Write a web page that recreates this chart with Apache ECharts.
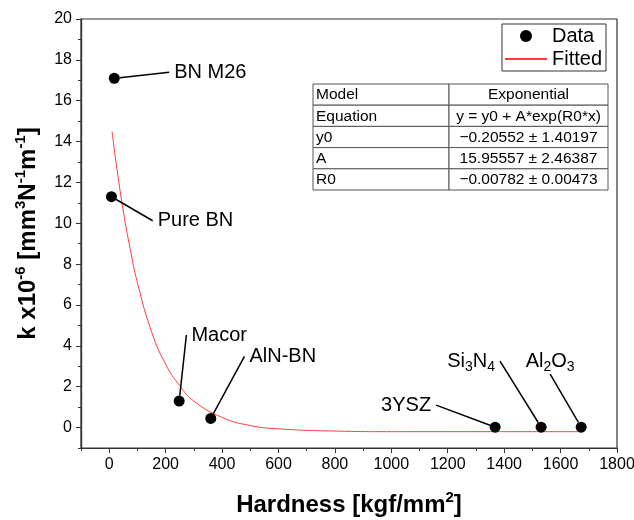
<!DOCTYPE html>
<html>
<head>
<meta charset="utf-8">
<script src="https://cdn.jsdelivr.net/npm/echarts@6/dist/echarts.min.js"></script>
<style>
  html, body { margin: 0; padding: 0; background: #fff; }
  #chart { width: 634px; height: 520px; }
</style>
</head>
<body>
<div id="chart"></div>
<script>
// measured samples (hardness in kgf/mm2, wear rate k in 1e-6 mm3/Nm)
const materials = ['BN M26', 'Pure BN', 'Macor', 'AlN-BN', '3YSZ', 'Si{sub|3}N{sub|4}', 'Al{sub|2}O{sub|3}'];
const hardness = [18, 8, 248, 360, 1368, 1531, 1673];
const wearRate = [17.1, 11.3, 1.3, 0.45, 0.02, 0.02, 0.02];

// fitted exponential curve
const fitHardness = [10, 25, 50, 75, 100, 150, 200, 250, 300, 400, 500, 600, 800, 1000, 1300, 1673];
const fitRate = [14.5, 12.9, 10.6, 8.7, 7.1, 4.7, 3.1, 2.05, 1.3, 0.5, 0.1, -0.06, -0.17, -0.2, -0.2, -0.2];

// tick values
const xMajor = [0, 200, 400, 600, 800, 1000, 1200, 1400, 1600, 1800];
const xMinor = [-100, 100, 300, 500, 700, 900, 1100, 1300, 1500, 1700];
const yMajor = [0, 2, 4, 6, 8, 10, 12, 14, 16, 18, 20];
const yMinor = [-1, 1, 3, 5, 7, 9, 11, 13, 15, 17, 19];

// fit summary table
const tableRows = [
    ['Model', 'Exponential'],
    ['Equation', 'y = y0 + A*exp(R0*x)'],
    ['y0', '\u22120.20552 \u00b1 1.40197'],
    ['A', '15.95557 \u00b1 2.46387'],
    ['R0', '\u22120.00782 \u00b1 0.00473']
];

// where each annotation sits relative to its point (px)
const labelShift = [[96, -6], [84, 24], [40, -66], [72, -62], [-89, -22], [-70, -66], [-31, -66]];

const FONT = '"Liberation Sans", Arial, sans-serif';
const INK = '#000';

const chart = echarts.init(document.getElementById('chart'));

const tableGraphic = (function () {
    const left = 313, top = 84, width = 295, rowH = 21.2, split = 136;
    const children = [];
    tableRows.forEach(function (row, i) {
        const y = top + i * rowH;
        children.push({
            type: 'rect',
            shape: { x: left, y: y, width: split, height: rowH },
            style: { fill: '#fff', stroke: '#555', lineWidth: 1 }
        });
        children.push({
            type: 'rect',
            shape: { x: left + split, y: y, width: width - split, height: rowH },
            style: { fill: '#fff', stroke: '#555', lineWidth: 1 }
        });
        children.push({
            type: 'text',
            style: { x: left + 3, y: y + rowH / 2 + 0.5, text: row[0], font: '15.5px ' + FONT, fill: INK, verticalAlign: 'middle' }
        });
        children.push({
            type: 'text',
            style: { x: left + split + (width - split) / 2, y: y + rowH / 2 + 0.5, text: row[1], font: '15.5px ' + FONT, fill: INK, align: 'center', verticalAlign: 'middle' }
        });
    });
    return { type: 'group', children: children };
})();

const axisCommon = {
    type: 'value',
    axisLine: { show: true, onZero: false, lineStyle: { color: '#333', width: 1.2 } },
    splitLine: { show: false }
};

const titleStyle = {
    fontSize: 24, fontWeight: 'bold', color: INK, fontFamily: FONT, lineHeight: 30,
    rich: { sup: { fontSize: 15, lineHeight: 15, fontWeight: 'bold', verticalAlign: 'top', color: INK, fontFamily: FONT } }
};

const option = {
    animation: false,
    textStyle: { fontFamily: FONT },
    grid: {
        left: 81, right: 17, top: 19, bottom: 72,
        outerBoundsMode: 'none', containLabel: false,
        show: true, borderColor: '#333', borderWidth: 1.2
    },
    legend: {
        orient: 'vertical',
        right: 28,
        top: 24,
        data: [
            { name: 'Data' },
            { name: 'Fitted', itemStyle: { opacity: 0 } }
        ],
        borderColor: '#333',
        borderWidth: 1,
        padding: [2, 4, 2, 2],
        itemWidth: 42,
        itemHeight: 12,
        itemGap: 3,
        textStyle: { fontSize: 20, color: INK, fontFamily: FONT }
    },
    xAxis: [
        Object.assign({}, axisCommon, {
            min: -100, max: 1800,
            position: 'bottom',
            name: 'Hardness [kgf/mm{sup|2}]',
            nameLocation: 'middle',
            nameGap: 42,
            nameTextStyle: titleStyle,
            axisTick: { show: true, length: 5, customValues: xMajor, lineStyle: { color: '#333' } },
            axisLabel: {
                customValues: xMajor, margin: 9, fontSize: 16, color: INK, fontFamily: FONT,
                formatter: function (v) { return String(v); }
            }
        }),
        Object.assign({}, axisCommon, {
            min: -100, max: 1800,
            position: 'bottom',
            axisTick: { show: true, length: 3, customValues: xMinor, lineStyle: { color: '#333' } },
            axisLabel: { show: false }
        })
    ],
    yAxis: [
        Object.assign({}, axisCommon, {
            min: -1, max: 20,
            position: 'left',
            name: 'k x10{sup|-6} [mm{sup|3}N{sup|-1}m{sup|-1}]',
            nameLocation: 'middle',
            nameGap: 28,
            nameTextStyle: titleStyle,
            axisTick: { show: true, length: 5, customValues: yMajor, lineStyle: { color: '#333' } },
            axisLabel: { customValues: yMajor, margin: 9, fontSize: 16, color: INK, fontFamily: FONT }
        }),
        Object.assign({}, axisCommon, {
            min: -1, max: 20,
            position: 'left',
            axisTick: { show: true, length: 3, customValues: yMinor, lineStyle: { color: '#333' } },
            axisLabel: { show: false }
        })
    ],
    series: [
        {
            name: 'Fitted',
            type: 'line',
            smooth: true,
            symbol: 'none',
            lineStyle: { color: '#ff3b3b', width: 1 },
            itemStyle: { color: '#ff3b3b' },
            data: fitHardness.map(function (x, i) { return [x, fitRate[i]]; }),
            z: 2
        },
        {
            name: 'Data',
            type: 'scatter',
            symbol: 'circle',
            symbolSize: 11,
            itemStyle: { color: '#000', opacity: 1 },
            data: hardness.map(function (x, i) { return { name: materials[i], value: [x, wearRate[i]] }; }),
            label: {
                show: true,
                position: 'inside',
                formatter: function (p) { return p.name; },
                fontSize: 20,
                lineHeight: 26,
                color: INK,
                opacity: 1,
                textBorderWidth: 0,
                padding: [0, 5],
                fontFamily: FONT,
                rich: { sub: { fontSize: 14, lineHeight: 14, verticalAlign: 'bottom', color: INK, fontFamily: FONT } }
            },
            labelLine: { show: true, lineStyle: { color: '#000', width: 1.5, opacity: 1 } },
            labelLayout: function (p) {
                const s = labelShift[p.dataIndex];
                return { dx: s[0], dy: s[1] };
            },
            z: 3
        }
    ],
    graphic: [tableGraphic]
};

chart.setOption(option);
</script>
</body>
</html>
